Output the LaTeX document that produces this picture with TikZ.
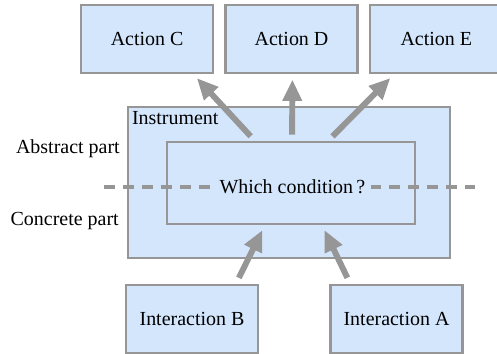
\documentclass[tikz,border=0pt]{standalone}
\usepackage{fontspec}
\setmainfont{Liberation Serif}
\usepackage{tikz}
\usetikzlibrary{arrows.meta, positioning}
\definecolor{boxblue}{HTML}{D4E6FC}
\definecolor{edgegray}{HTML}{969696}

\begin{document}
\begin{tikzpicture}[
      node distance=2cm,on grid,
      font=\fontsize{14.2pt}{16pt}\selectfont,
      every node/.style={inner sep=0pt},
      box/.style={draw=edgegray, line width=1.5pt, fill=boxblue,
        minimum width=3.3cm, minimum height=1.7cm},
      flow/.style={-{Triangle[length=5.3mm,width=4.6mm]}, draw=edgegray,
        line width=4.2pt, shorten <=1.6mm, shorten >=1.4mm}
      ]
      \useasboundingbox (0,0) rectangle (12.425,8.825);

      % outer instrument and inner condition
      \node[box, minimum width=8.05cm, minimum height=3.775cm] (inst) at (7.225,4.2625) {};
      \node[anchor=north west, inner sep=0.12cm] (instlbl) at (inst.north west) {Instrument};
      \node[box, minimum width=6.2cm, minimum height=2.05cm] (cond) at (7.275,4.25) {};

      % abstract / concrete split
      \coordinate (dl) at (2.6,4.15);
      \coordinate (dr) at (11.875,4.15);
      \draw[edgegray, line width=2.4pt, dash pattern=on 0.275cm off 0.2cm] (dl) -- (dr);
      \node[fill=boxblue, inner sep=0.15cm] (condtxt) at (7.31,4.15) {Which condition\,?};

      \node[anchor=east] (abstract) at (3.0,5.1) {Abstract part};
      \node[anchor=east] (concrete) at (2.975,3.3) {Concrete part};

      % actions on top
      \node[box] (actD) at (7.2875,7.85) {Action D};
      \node[box, left=3.61cm of actD] (actC) {Action C};
      \node[box, right=3.62cm of actD] (actE) {Action E};

      % interactions below
      \node[box, below left=3.39cm and 2.475cm of cond] (intB) {Interaction B};
      \node[box, below right=3.39cm and 2.6375cm of cond] (intA) {Interaction A};

      \draw[flow] ([xshift=-0.9cm]cond.north) -- ([xshift=1.15cm]actC.south);
      \draw[flow] ([xshift=0.025cm]cond.north) -- ([xshift=0.025cm]actD.south);
      \draw[flow] ([xshift=0.925cm]cond.north) -- ([xshift=-1.05cm]actE.south);
      \draw[flow] ([xshift=1.1cm]intB.north) -- ([xshift=-0.65cm]cond.south);
      \draw[flow] ([xshift=-1.16cm]intA.north) -- ([xshift=0.775cm]cond.south);
    \end{tikzpicture}
\end{document}
